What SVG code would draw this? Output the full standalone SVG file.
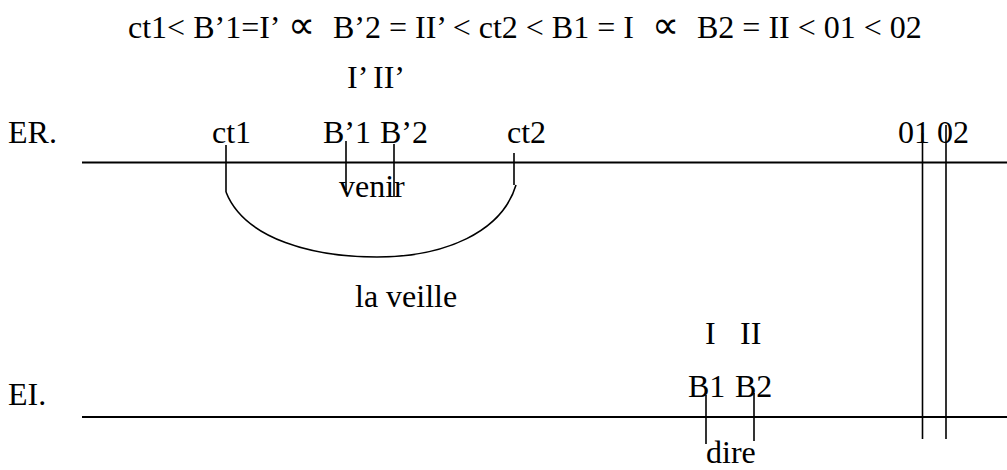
<svg xmlns="http://www.w3.org/2000/svg" width="1007" height="470" viewBox="0 0 1007 470">
<style>
.t{font-family:"Liberation Serif","Times New Roman",serif;font-size:32px;fill:#000}
.pr{font-size:38px}
.ln{stroke:#000;stroke-width:2;fill:none}
.tk{stroke:#000;stroke-width:1.6;fill:none}
</style>
<rect width="1007" height="470" fill="#fff"/>
<g id="formula"><text class="t" y="38" xml:space="preserve"><tspan x="128">ct1&lt; B’1=I’</tspan><tspan x="288" class="pr">∝</tspan><tspan x="333">B’2 = II’ &lt; ct2 &lt; B1 = I</tspan><tspan x="652" class="pr">∝</tspan><tspan x="697">B2 = II &lt; 01 &lt; 02</tspan></text></g>
<g id="er-axis">
<text class="t" x="8" y="143">ER.</text>
<line class="ln" x1="82" y1="162.5" x2="1007" y2="162.5"/>
<text class="t" y="88"><tspan x="347">I’</tspan><tspan x="373">II’</tspan></text>
</g>
<g id="ct1"><text class="t" x="212" y="143">ct1</text></g>
<g id="b-prime"><text class="t" y="143"><tspan x="323">B’1</tspan><tspan x="380">B’2</tspan></text></g>
<g id="ct2"><text class="t" x="507" y="143">ct2</text></g>
<g id="o12"><text class="t" y="143"><tspan x="898">01</tspan><tspan x="937">02</tspan></text></g>
<g id="venir"><text class="t" x="339" y="197">venir</text></g>
<g id="la-veille"><text class="t" x="355" y="307">la veille</text></g>
<g id="ei-axis">
<text class="t" x="8" y="405">EI.</text>
<line class="ln" x1="82" y1="417" x2="1007" y2="417"/>
<text class="t" y="344"><tspan x="705">I</tspan><tspan x="740">II</tspan></text>
</g>
<g id="b12"><text class="t" y="397"><tspan x="688">B1</tspan><tspan x="735">B2</tspan></text></g>
<g id="dire"><text class="t" x="706" y="463">dire</text></g>
<g id="connectors">
<line class="tk" x1="226" y1="145" x2="226" y2="192"/>
<line class="tk" x1="346" y1="141" x2="346" y2="190"/>
<line class="tk" x1="394" y1="144" x2="394" y2="197"/>
<line class="tk" x1="514" y1="153" x2="514" y2="185"/>
<path class="tk" d="M226,192 C245,240 315,257 377,257 C445,257 502,232 516,185"/>
<line class="tk" x1="922.5" y1="133" x2="922.5" y2="439"/>
<line class="tk" x1="946" y1="125" x2="946" y2="439"/>
<line class="tk" x1="706" y1="395" x2="706" y2="444"/>
<line class="tk" x1="754" y1="393" x2="754" y2="441"/>
</g>
</svg>
